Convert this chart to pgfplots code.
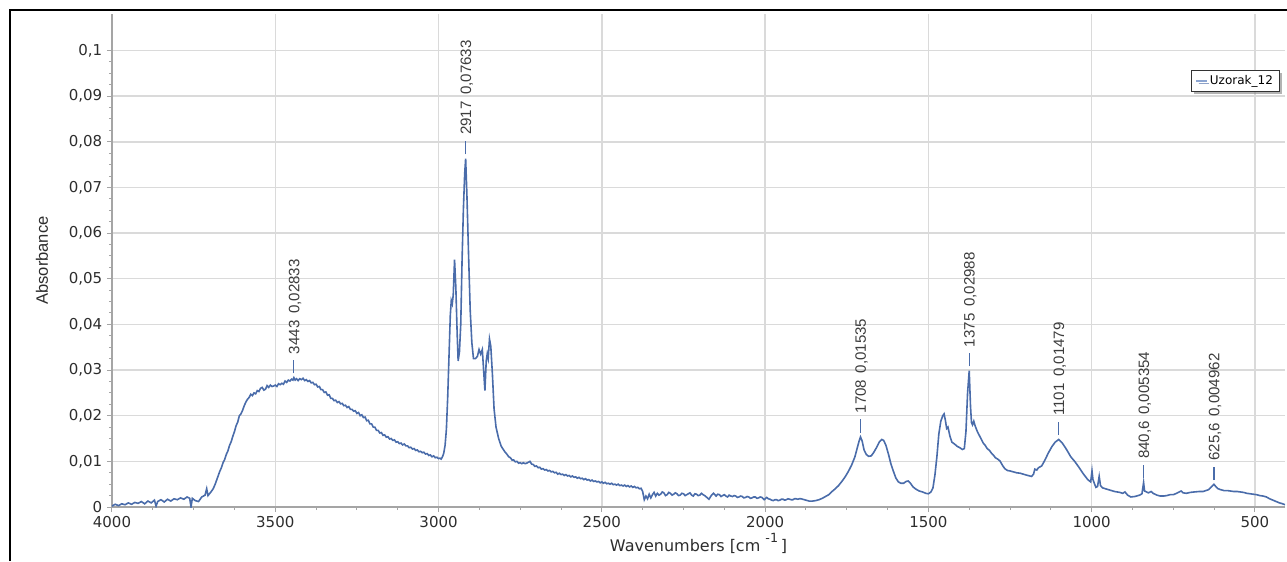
\documentclass[border=0pt]{standalone}
\usepackage{fontspec}
\setmainfont{DejaVu Sans}
\newfontfamily\arial{Liberation Sans}
\usepackage{pgfplots}
\pgfplotsset{compat=1.18}
\usetikzlibrary{shadows}
\definecolor{curveblue}{RGB}{74,108,170}
\definecolor{legblue}{RGB}{140,165,210}
\definecolor{gridgray}{RGB}{218,218,218}
\definecolor{axisgray}{RGB}{165,165,165}
\definecolor{txtgray}{RGB}{45,45,45}
\definecolor{anngray}{RGB}{60,60,60}
\begin{document}
\begin{tikzpicture}
\path[use as bounding box] (0,0) rectangle (965.25pt,420.75pt);
\draw[line width=1.5pt, black] (7.5pt,0) -- (7.5pt,413.25pt) -- (966pt,413.25pt);
\begin{axis}[
  at={(523.875pt,225.375pt)}, anchor=center,
  scale only axis, width=879.75pt, height=369.75pt,
  x dir=reverse, xmin=408, xmax=4000, ymin=0, ymax=0.108,
  clip mode=individual,
  axis x line*=bottom, axis y line*=left,
  axis line style={axisgray, line width=1.5pt, -},
  tick align=outside,
  major tick length=3.75pt, minor tick length=2.25pt,
  every tick/.style={axisgray, line width=0.75pt},
  xtick={500,1000,1500,2000,2500,3000,3500,4000},
  ytick={0,0.01,0.02,0.03,0.04,0.05,0.06,0.07,0.08,0.09,0.1},
  minor x tick num=3, minor y tick num=3,
  grid=major,
  major grid style={gridgray, line width=1.1pt},
  /pgf/number format/assume math mode=true,
  /pgf/number format/use comma,
  yticklabel style={/pgf/number format/fixed, /pgf/number format/precision=2},
  xticklabel style={/pgf/number format/1000 sep={}},
  tick label style={font=\fontsize{11.25}{13}\selectfont, text=txtgray},
  xlabel={Wavenumbers [cm \raisebox{0.55em}{\fontsize{9.5}{10}\selectfont -1}\,]},
  xlabel style={at={(axis description cs:0.5,0)}, anchor=base, yshift=-33pt, font=\fontsize{12}{14}\selectfont, text=txtgray},
  ylabel={Absorbance},
  ylabel style={at={(axis description cs:-0.0597,0.5)}, anchor=center, font=\arial\fontsize{12.4}{14}\selectfont, text=txtgray},
  legend style={at={(0.9957,0.8864)}, anchor=north east, draw=black!80, line width=0.6pt, fill=white,
    drop shadow={shadow xshift=2pt, shadow yshift=-2pt, opacity=0.6},
    font=\fontsize{9}{10}\selectfont, inner xsep=3pt, inner ysep=1.8pt},
  legend cell align=left,
  legend image code/.code={\draw[legblue, line width=0.9pt] (0pt,0pt) -- (8pt,0pt);},
]
\addplot[curveblue, line width=1.2pt] coordinates {
(4000,0.0002) (3990,0.0006) (3980,0.0003) (3970,0.0007) (3960,0.0005) (3950,0.0009) (3940,0.0006) (3930,0.0010) (3920,0.0008) (3910,0.0012) (3900,0.0007) (3890,0.0013) (3880,0.0009) (3870,0.0015) (3865,0.0002) (3860,0.0012) (3850,0.0016) (3840,0.0011) (3830,0.0017) (3820,0.0013) (3810,0.0018) (3800,0.0016) (3790,0.0020) (3780,0.0017) (3770,0.0022) (3762,0.0019) (3758,0.0000) (3754,0.0019) (3745,0.0014) (3735,0.0012) (3725,0.0022) (3715,0.0026) (3710,0.0040) (3706,0.0025) (3698,0.0032) (3690,0.0040) (3684,0.0050) (3678,0.0062) (3670,0.0078) (3665,0.0086) (3660,0.0097) (3655,0.0104) (3650,0.0115) (3645,0.0123) (3640,0.0135) (3635,0.0143) (3630,0.0155) (3625,0.0165) (3620,0.0178) (3615,0.0186) (3610,0.0200) (3605,0.0204)
(3600,0.0212)(3595,0.0222)(3590,0.0230)(3585,0.0236)(3580,0.0240)(3575,0.0247)(3570,0.0244)(3565,0.0250)(3560,0.0248)(3555,0.0255)(3550,0.0253)(3545,0.0260)(3540,0.0262)(3535,0.0256)(3530,0.0258)(3525,0.0266)(3520,0.0262)(3515,0.0267)(3510,0.0264)(3505,0.0265)(3500,0.0267)(3495,0.0264)(3490,0.0270)(3485,0.0268)(3480,0.0271)(3475,0.0269)(3470,0.0276)(3465,0.0273)(3460,0.0278)(3455,0.0276)(3450,0.0280)(3446,0.0278)(3443,0.02833)(3439,0.0278)(3435,0.0281)(3430,0.0277)(3425,0.0281)(3420,0.0279)(3415,0.0282)(3410,0.0277)(3405,0.0279)(3400,0.0275)(3395,0.0277)(3390,0.0272)(3385,0.0273)(3380,0.0268)(3375,0.0269)(3370,0.0263)(3365,0.0264)(3360,0.0257)(3355,0.0257)(3350,0.0251)(3345,0.0252)(3340,0.0245)(3335,0.0246)(3330,0.0238)(3325,0.0238)(3320,0.0233)(3315,0.0234)(3310,0.0229)(3305,0.0231)(3300,0.0226)(3295,0.0227)(3290,0.0222)(3285,0.0223)(3280,0.0218)(3275,0.0220)(3270,0.0214)(3265,0.0214)(3260,0.0210)(3255,0.0211)(3250,0.0205)(3245,0.0207)(3240,0.0200)(3235,0.0202)(3230,0.0196)(3225,0.0197)(3220,0.0189)(3215,0.0190)(3210,0.0182)(3205,0.0182)(3200,0.0175)(3195,0.0175)(3190,0.0168)(3185,0.0168)(3180,0.0162)(3175,0.0163)(3170,0.0157)(3165,0.0158)(3160,0.0153)(3155,0.0154)(3150,0.0149)(3145,0.0150)(3140,0.0146)(3135,0.0147)(3130,0.0142)(3125,0.0143)(3120,0.0139)(3115,0.0140)(3110,0.0136)(3105,0.0138)(3100,0.0134)(3095,0.0134)(3090,0.0130)(3085,0.0131)(3080,0.0127)(3075,0.0128)(3070,0.0124)(3065,0.0125)(3060,0.0121)(3055,0.0122)(3050,0.0119)(3045,0.0120)(3040,0.0116)(3035,0.0117)(3030,0.0113)(3025,0.0114)(3020,0.0110)(3015,0.0112)(3010,0.0108)(3005,0.0109)(3000,0.0106)(2996,0.0107)(2992,0.0105)
(2988,0.0110) (2984,0.0118) (2980,0.0135) (2976,0.0170) (2972,0.0240) (2968,0.0330) (2964,0.0420) (2961,0.0452) (2958,0.0445) (2955,0.0465) (2951,0.0542) (2947,0.0480) (2943,0.0380) (2940,0.0320) (2936,0.0340) (2932,0.0400) (2928,0.0540) (2924,0.0650) (2920,0.0730) (2917,0.07633) (2913,0.0680) (2908,0.0550) (2903,0.0430) (2898,0.0360) (2893,0.0325) (2887,0.0325) (2881,0.0330) (2876,0.0345) (2871,0.0335) (2866,0.0345) (2862,0.0300) (2858,0.0255) (2854,0.0320) (2851,0.0335) (2848,0.0325) (2844,0.0368) (2840,0.0352) (2835,0.0290) (2830,0.0215) (2824,0.0175) (2816,0.0150) (2808,0.0133) (2798,0.0122)
(2790,0.0115)(2785,0.0110)(2780,0.0108)(2775,0.0103)(2770,0.0103)(2765,0.0099)(2760,0.0100)(2755,0.0096)(2750,0.0097)(2745,0.0095)(2740,0.0097)(2735,0.0095)(2730,0.0096)(2725,0.0098)(2720,0.0100)(2715,0.0094)(2710,0.0093)(2705,0.0089)(2700,0.0090)(2695,0.0086)(2690,0.0087)(2685,0.0083)(2680,0.0084)(2675,0.0081)(2670,0.0082)(2665,0.0079)(2660,0.0080)(2655,0.0077)(2650,0.0078)(2645,0.0075)(2640,0.0076)(2635,0.0072)(2630,0.0074)(2625,0.0071)(2620,0.0072)(2615,0.0069)(2610,0.0071)(2605,0.0068)(2600,0.0069)(2595,0.0066)(2590,0.0068)(2585,0.0065)(2580,0.0066)(2575,0.0063)(2570,0.0065)(2565,0.0062)(2560,0.0063)(2555,0.0060)(2550,0.0062)(2545,0.0059)(2540,0.0060)(2535,0.0057)(2530,0.0059)(2525,0.0056)(2520,0.0057)(2515,0.0055)(2510,0.0056)(2505,0.0053)(2500,0.0055)(2495,0.0052)(2490,0.0054)(2485,0.0051)(2480,0.0052)(2475,0.0050)(2470,0.0052)(2465,0.0049)(2460,0.0050)(2455,0.0048)(2450,0.0050)(2445,0.0047)(2440,0.0048)(2435,0.0046)(2430,0.0048)(2425,0.0045)(2420,0.0047)(2415,0.0044)(2410,0.0046)(2405,0.0043)(2400,0.0045)(2395,0.0042)(2390,0.0043)(2385,0.0040)(2380,0.0041)
(2375,0.0034) (2370,0.0016) (2365,0.0024) (2360,0.0018) (2355,0.0028) (2350,0.0020) (2345,0.0027) (2340,0.0032) (2335,0.0024) (2330,0.0030) (2325,0.0026) (2320,0.0028) (2315,0.0033) (2310,0.0031) (2305,0.0025) (2300,0.0027) (2295,0.0032) (2290,0.0030) (2285,0.0026) (2280,0.0028) (2275,0.0031) (2270,0.0029) (2265,0.0025) (2260,0.0026) (2255,0.0030) (2250,0.0029) (2245,0.0025) (2240,0.0027) (2235,0.0029) (2230,0.0031) (2225,0.0026) (2220,0.0024) (2215,0.0029) (2210,0.0028) (2205,0.0025) (2200,0.0026) (2195,0.0030) (2190,0.0027) (2185,0.0025) (2180,0.0022) (2172,0.0017) (2165,0.0025) (2158,0.0030) (2150,0.0024) (2145,0.0028) (2140,0.0027) (2135,0.0023) (2130,0.0025) (2125,0.0027) (2120,0.0024) (2115,0.0022) (2110,0.0026) (2105,0.0024) (2100,0.0023) (2095,0.0025) (2090,0.0024) (2085,0.0021) (2080,0.0022) (2075,0.0024) (2070,0.0023) (2065,0.0020) (2060,0.0021) (2055,0.0023) (2050,0.0022) (2045,0.0019) (2040,0.0020) (2035,0.0022) (2030,0.0022) (2025,0.0019) (2020,0.0020) (2015,0.0022) (2010,0.0021) (2003,0.0016) (1995,0.0021) (1990,0.0018) (1985,0.0017) (1980,0.0015) (1975,0.0014) (1970,0.0016) (1965,0.0016) (1960,0.0014) (1955,0.0015) (1950,0.0017) (1945,0.0017) (1940,0.0015) (1935,0.0016) (1930,0.0018) (1925,0.0017) (1920,0.0016) (1915,0.0016) (1910,0.0018) (1905,0.0018) (1900,0.0017) (1895,0.0018) (1890,0.0018) (1885,0.0017) (1875,0.0015) (1865,0.0013) (1855,0.0013) (1845,0.0014) (1835,0.0016) (1825,0.0019) (1815,0.0023) (1805,0.0027) (1795,0.0034) (1785,0.0040) (1775,0.0047) (1765,0.0056) (1755,0.0066) (1745,0.0078) (1735,0.0092) (1725,0.0110) (1718,0.0129) (1712,0.0145) (1708,0.01535) (1703,0.0145) (1697,0.0125) (1690,0.0115) (1683,0.0111) (1675,0.0112) (1667,0.0120) (1659,0.0130) (1650,0.0143) (1643,0.0148) (1637,0.0146) (1630,0.0135) (1622,0.0115) (1615,0.0095) (1607,0.0078) (1600,0.0064) (1592,0.0055) (1584,0.0052) (1576,0.0052) (1568,0.0056) (1562,0.0057) (1555,0.0052) (1547,0.0044) (1538,0.0039) (1528,0.0035) (1518,0.0033) (1508,0.0030) (1500,0.0029) (1492,0.0033) (1486,0.0042) (1480,0.0070) (1474,0.0110) (1468,0.0160) (1462,0.0188) (1456,0.0200) (1452,0.0204) (1448,0.0190) (1444,0.0172) (1440,0.0175) (1434,0.0155) (1428,0.0142) (1420,0.0138) (1412,0.0133) (1404,0.0130) (1396,0.0126) (1390,0.0128) (1385,0.0165) (1380,0.0250) (1375,0.02988) (1371,0.0220) (1368,0.0185) (1365,0.0180) (1361,0.0188) (1357,0.0178) (1350,0.0165) (1342,0.0154) (1332,0.0140) (1326,0.0135) (1320,0.0128) (1313,0.0124) (1306,0.0117) (1300,0.0113) (1295,0.0108) (1288,0.0105) (1281,0.0101) (1272,0.0090) (1266,0.0084) (1258,0.0080) (1250,0.0079) (1240,0.0077) (1230,0.0075) (1219,0.0074) (1205,0.0071) (1195,0.0069) (1184,0.0067) (1178,0.0072) (1174,0.0083) (1168,0.0081) (1163,0.0086) (1153,0.0090) (1143,0.0103) (1133,0.0118) (1122,0.0132) (1112,0.0142) (1101,0.01479) (1090,0.0140) (1077,0.0126) (1064,0.0110) (1051,0.0099) (1040,0.0088) (1026,0.0073) (1012,0.0060) (1003,0.0055) (999,0.0079) (996,0.0060) (992,0.0052) (987,0.0043) (982,0.0045) (977,0.0067) (973,0.0047) (967,0.0042) (958,0.0040) (944,0.0037) (930,0.0034) (914,0.0032) (905,0.0030) (898,0.0033) (890,0.0026) (880,0.0022) (868,0.0023) (853,0.0026) (846,0.0029) (841,0.00535) (838,0.0035) (832,0.0033) (826,0.0031) (818,0.0034) (812,0.0030) (800,0.0026) (790,0.0024) (780,0.0024) (770,0.0025) (760,0.0027) (750,0.0027) (740,0.0030) (732,0.0033) (726,0.0035) (720,0.0031) (710,0.0030) (698,0.0032) (685,0.0033) (670,0.0034) (659,0.0034) (650,0.0036) (642,0.0038) (635,0.0043) (628,0.0048) (625.6,0.004962) (620,0.0045) (613,0.0040) (605,0.0038) (595,0.0036) (585,0.0036) (575,0.0035) (565,0.0034) (555,0.0034) (545,0.0033) (535,0.0032) (525,0.0030) (515,0.0029) (505,0.0028) (495,0.0027) (485,0.0025) (475,0.0024) (465,0.0022) (455,0.0018) (445,0.0015) (435,0.0012) (425,0.0009) (415,0.0007) (408,0.0005)
};
\addlegendentry{Uzorak\_12}
\addplot[draw=none, forget plot, point meta=explicit symbolic,
  nodes near coords={\hspace*{3pt}\textcolor{curveblue}{\rule[3.6pt]{10pt}{0.9pt}}\hspace{4.5pt}\pgfplotspointmeta},
  every node near coord/.append style={rotate=90, anchor=west, inner sep=0pt, text height=8.1pt, text depth=0pt, font=\arial\fontsize{11.3}{12}\selectfont, text=anngray}]
coordinates {
(3443,0.02833) [3443\hspace{5pt}0,02833]
(2917,0.07633) [2917\hspace{5pt}0,07633]
(1708,0.01535) [1708\hspace{5pt}0,01535]
(1375,0.02988) [1375\hspace{5pt}0,02988]
(1101,0.01479) [1101\hspace{5pt}0,01479]
(840.6,0.005354) [840,6\hspace{5pt}0,005354]
(625.6,0.004962) [625,6\hspace{5pt}0,004962]
};
\end{axis}
\end{tikzpicture}
\end{document}
